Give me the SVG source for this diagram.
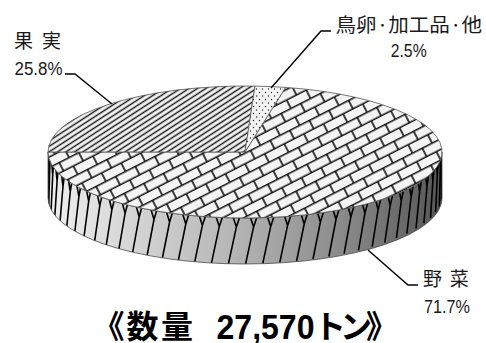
<svg xmlns="http://www.w3.org/2000/svg" width="486" height="343" viewBox="0 0 486 343">
<style>
.lbl{font-family:"Noto Sans CJK JP","Liberation Sans",sans-serif;fill:#1a1a1a}
.num{font-family:"Liberation Sans",Arial,sans-serif;fill:#1a1a1a;font-size:17.5px}
.edge{fill:none;stroke:#4a4a4a;stroke-width:0.8}
.leader{fill:none;stroke:#000;stroke-width:1.4}
.sideln{fill:none;stroke:#000;stroke-width:1.6;stroke-linejoin:round}
.title{font-family:"Noto Sans CJK JP",sans-serif;font-weight:bold;fill:#000;font-size:32px}
</style>
<defs>
<pattern id="pFruit" patternUnits="userSpaceOnUse" width="8" height="4.6" patternTransform="rotate(-33)">
<rect width="8" height="4.6" fill="#f4f4f4"/>
<line x1="0" y1="2.3" x2="8" y2="2.3" stroke="#111" stroke-width="1.4"/>
</pattern>
<pattern id="pBrick" patternUnits="userSpaceOnUse" width="22" height="19" patternTransform="rotate(-27)">
<rect width="22" height="19" fill="#f4f4f4"/>
<path d="M0,0.8H22M0,10.3H22M1,0.8V10.3M12,10.3V19M12,0V0.8" stroke="#111" stroke-width="1.6" fill="none"/>
</pattern>
<pattern id="pDot" patternUnits="userSpaceOnUse" width="6" height="7">
<rect width="6" height="7" fill="#f4f4f4"/>
<circle cx="1.5" cy="1.5" r="0.7" fill="#222"/>
<circle cx="4.5" cy="5" r="0.7" fill="#222"/>
</pattern>
<linearGradient id="gSide" gradientUnits="userSpaceOnUse" x1="48" y1="0" x2="442" y2="0">
<stop offset="0" stop-color="#efefef"/>
<stop offset="0.45" stop-color="#b8b8b8"/>
<stop offset="0.75" stop-color="#8a8a8a"/>
<stop offset="1" stop-color="#555555"/>
</linearGradient>
<clipPath id="cSide">
<path d="M48,152 A197,66 0 0 0 442,152 L442,198 A197,66 0 0 1 48,198 Z"/>
</clipPath>
</defs>

<g id="slice-veg-side">
<path d="M48,152 A197,66 0 0 0 442,152 L442,198 A197,66 0 0 1 48,198 Z" fill="url(#gSide)"/>
<g clip-path="url(#cSide)">
<path class="sideln" d="M48,151.9 L48.2,163.9 L48.4,151.9 M48.2,163.9 L47.9,200.9
M49.2,157.6 L49.7,169.6 L50.2,157.6 M49.7,169.6 L48.7,206.6
M51.8,163.3 L52.7,175.3 L53.6,163.3 M52.7,175.3 L51,212.3
M55.9,168.9 L57.1,180.9 L58.3,168.9 M57.1,180.9 L54.7,217.9
M61.5,174.3 L63,186.3 L64.5,174.3 M63,186.3 L59.9,223.3
M68.4,179.5 L70.3,191.5 L72.2,179.5 M70.3,191.5 L66.6,228.5
M76.7,184.5 L78.9,196.5 L81.1,184.5 M78.9,196.5 L74.6,233.5
M86.3,189.2 L88.7,201.2 L91.1,189.2 M88.7,201.2 L83.8,238.2
M97.1,193.6 L99.8,205.6 L102.5,193.6 M99.8,205.6 L94.4,242.6
M108.9,197.7 L111.9,209.7 L114.9,197.7 M111.9,209.7 L106,246.7
M121.9,201.4 L125.1,213.4 L128.3,201.4 M125.1,213.4 L118.7,250.4
M135.8,204.7 L139.2,216.7 L142.6,204.7 M139.2,216.7 L132.4,253.7
M150.4,207.5 L154,219.5 L157.6,207.5 M154,219.5 L146.9,256.5
M165.9,210 L169.6,222 L173.3,210 M169.6,222 L162.2,259
M182,212 L185.8,224 L189.6,212 M185.8,224 L178.2,261
M198.5,213.4 L202.4,225.4 L206.3,213.4 M202.4,225.4 L194.6,262.4
M215.3,214.4 L219.3,226.4 L223.3,214.4 M219.3,226.4 L211.4,263.4
M232.4,214.9 L236.4,226.9 L240.4,214.9 M236.4,226.9 L228.4,263.9
M249.6,214.9 L253.6,226.9 L257.6,214.9 M253.6,226.9 L245.6,263.9
M266.7,214.4 L270.7,226.4 L274.7,214.4 M270.7,226.4 L262.8,263.4
M283.7,213.4 L287.6,225.4 L291.5,213.4 M287.6,225.4 L279.8,262.4
M300.4,212 L304.2,224 L308,212 M304.2,224 L296.6,261
M316.7,210 L320.4,222 L324.1,210 M320.4,222 L313,259
M332.4,207.5 L336,219.5 L339.6,207.5 M336,219.5 L328.9,256.5
M347.5,204.7 L350.9,216.7 L354.3,204.7 M350.9,216.7 L344.1,253.7
M361.7,201.4 L364.9,213.4 L368.1,201.4 M364.9,213.4 L358.5,250.4
M375.1,197.7 L378.1,209.7 L381.1,197.7 M378.1,209.7 L372.2,246.7
M387.5,193.6 L390.2,205.6 L392.9,193.6 M390.2,205.6 L384.8,242.6
M398.9,189.2 L401.3,201.2 L403.7,189.2 M401.3,201.2 L396.4,238.2
M409,184.5 L411.2,196.5 L413.4,184.5 M411.2,196.5 L406.9,233.5
M417.8,179.5 L419.7,191.5 L421.6,179.5 M419.7,191.5 L416,228.5
M425.5,174.3 L427,186.3 L428.5,174.3 M427,186.3 L423.9,223.3
M431.7,168.9 L432.9,180.9 L434.1,168.9 M432.9,180.9 L430.5,217.9
M436.4,163.3 L437.3,175.3 L438.2,163.3 M437.3,175.3 L435.6,212.3
M439.8,157.6 L440.3,169.6 L440.8,157.6 M440.3,169.6 L439.3,206.6
M441.6,151.9 L441.8,163.9 L442,151.9 M441.8,163.9 L441.5,200.9"/>
</g>
<path class="edge" d="M48,152 A197,66 0 0 0 442,152 L442,198 A197,66 0 0 1 48,198 Z"/>
</g>

<g id="slice-veg">
<path d="M245,152 L285.6,87.4 A197,66 0 1 1 48,152 Z" fill="url(#pBrick)" stroke="#555" stroke-width="0.8"/>
</g>
<g id="slice-fruit">
<path d="M245,152 L48,152 A197,66 0 0 1 255,86.1 Z" fill="url(#pFruit)" stroke="#555" stroke-width="0.8"/>
</g>
<g id="slice-egg">
<path d="M245,152 L255,86.1 A197,66 0 0 1 285.6,87.4 Z" fill="url(#pDot)" stroke="#555" stroke-width="0.8"/>
</g>

<g id="connectors">
<path class="leader" d="M65,74 L75,74 L112,104"/>
<path class="leader" d="M331,31 L321,31 L271,88"/>
<path class="leader" d="M368,250 L408,285 L418,285"/>
</g>

<g id="label-fruit">
<text class="lbl" font-size="19" x="14 42" y="48">果実</text>
<text class="num" x="14.5" y="75.3" textLength="48" lengthAdjust="spacingAndGlyphs">25.8%</text>
</g>
<g id="label-egg">
<text class="lbl" font-size="19" x="335.5" y="31.5" textLength="146.5" lengthAdjust="spacingAndGlyphs">鳥卵·加工品·他</text>
<text class="num" x="390.7" y="57.3" textLength="36" lengthAdjust="spacingAndGlyphs">2.5%</text>
</g>
<g id="label-veg">
<text class="lbl" font-size="19" x="423 449.7" y="286">野菜</text>
<text class="num" x="424" y="312.7" textLength="46" lengthAdjust="spacingAndGlyphs">71.7%</text>
</g>

<g id="title">
<text class="title" x="92.5 126.5 161" y="338">《数量</text>
<text font-family="Liberation Sans,Arial,sans-serif" font-weight="bold" font-size="35" x="216.5" y="338.5" textLength="98" lengthAdjust="spacingAndGlyphs" fill="#000">27,570</text>
<text class="title" x="314 340 366" y="338">トン》</text>
</g>
</svg>
